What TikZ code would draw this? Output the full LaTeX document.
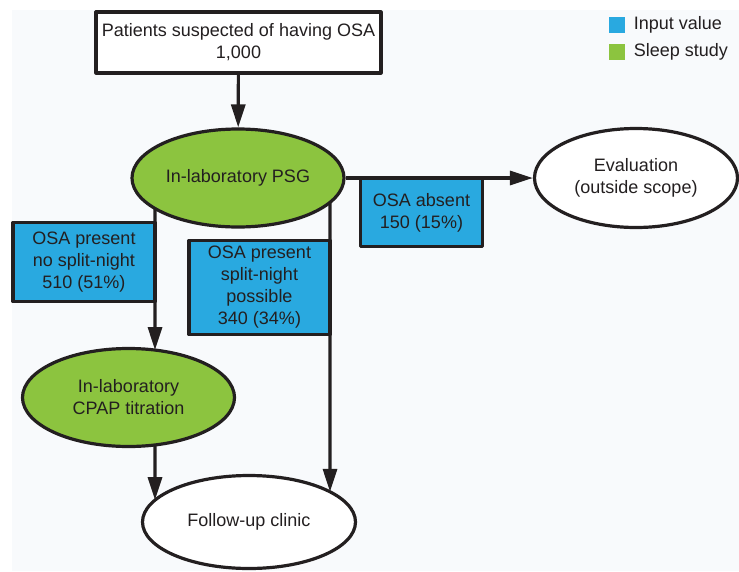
\documentclass[tikz,border=0pt]{standalone}
\usepackage{fontspec}
\setmainfont{Liberation Sans}
\usetikzlibrary{shapes.geometric,arrows.meta,positioning,intersections}
\definecolor{inputblue}{HTML}{29A9E0}
\definecolor{studygreen}{HTML}{8CC43F}
\definecolor{paper}{HTML}{F8FAFC}
\definecolor{ink}{HTML}{231F20}
\begin{document}
\begin{tikzpicture}[x=1pt,y=-1pt,>={Triangle[length=23pt,width=14pt]},line join=round,
	font=\fontsize{18}{22}\selectfont,
	every node/.style={text=ink,align=center},
	flow/.style={draw=ink,line width=3.2pt,->},
	box/.style={draw=ink,line width=3.2pt,inner sep=0pt},
	study/.style={ellipse,draw=ink,line width=3.2pt,fill=studygreen,inner sep=0pt},
	endpoint/.style={ellipse,draw=ink,line width=3.2pt,fill=white,inner sep=0pt},
	value/.style={box,fill=inputblue},
	key/.style={fill=#1,minimum size=16pt,inner sep=0pt}]
	\useasboundingbox (0,0) rectangle (739,571);
	\fill[paper] (12,10) rectangle (739,571);
	% nodes
	\node[box,fill=white,minimum width=285,minimum height=61] (patients) at (238.5,42.5) {Patients suspected of having OSA\\1,000};
	\node[study,minimum width=212,minimum height=98,name path=psgrim] (psg) at (238,178) {In-laboratory PSG};
	\node[endpoint,minimum width=203,minimum height=99] (eval) at (636,178) {Evaluation\\(outside scope)};
	\node[study,minimum width=212,minimum height=98,name path=cpaprim] (cpap) at (128.5,397.5) {In-laboratory\\CPAP titration};
	\node[endpoint,minimum width=213,minimum height=93,name path=clinicrim] (clinic) at (249,522) {Follow-up clinic};
	% vertical branches
	\coordinate (leftcol) at (155,0);
	\coordinate (midcol) at (330,0);
	\path[name path=leftline] (leftcol |- psg.center) -- (leftcol |- clinic.center);
	\path[name path=midline] (midcol |- psg.center) -- (midcol |- clinic.center);
	\path[name intersections={of=psgrim and leftline,by=psgleft}];
	\path[name intersections={of=cpaprim and leftline,by={cpaptop,cpapbot}}];
	\path[name intersections={of=clinicrim and leftline,by=clinicleft}];
	\path[name intersections={of=psgrim and midline,by=psgmid}];
	\path[name intersections={of=clinicrim and midline,by=clinicmid}];
	% connectors
	\draw[flow] (patients) -- (psg);
	\draw[flow] (psg.east) -- (eval.west);
	\draw[flow] (psgleft) -- (cpaptop);
	\draw[flow] (psgmid) -- (clinicmid);
	\draw[flow] (cpapbot) -- (clinicleft);
	% input values
	\node[value,minimum width=122,minimum height=68] (absent) at (421.5,212.5) {OSA absent\\150 (15\%)};
	\node[value,minimum width=142,minimum height=79] (nosplit) at (84,262) {OSA present\\no split-night\\510 (51\%)};
	\node[value,minimum width=141,minimum height=94] (split) at (259.5,287.5) {OSA present\\split-night\\possible\\340 (34\%)};
	% legend
	\node[key=inputblue] (keyinput) at (616.5,24.5) {};
	\node[key=studygreen] (keystudy) at (616.5,52) {};
	\node[right=9pt of keyinput.east,anchor=west,inner sep=0pt] (txtinput) {Input value};
	\node[right=9pt of keystudy.east,anchor=west,inner sep=0pt] (txtstudy) {Sleep study};
\end{tikzpicture}
\end{document}
